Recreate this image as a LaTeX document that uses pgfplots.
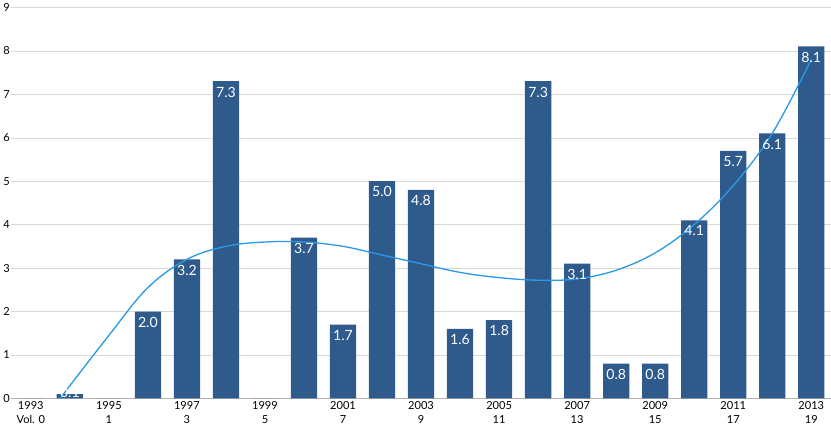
\documentclass[border=0pt]{standalone}
\usepackage{pgfplots}
\pgfplotsset{compat=1.18}
\usepackage{fontspec}
\setmainfont{Lato}
\definecolor{barc}{HTML}{2E5A8C}
\definecolor{linec}{HTML}{2A9AE8}
\begin{document}
\begin{tikzpicture}[x=1bp,y=1bp]
\begin{axis}[
  scale only axis, width=811bp, height=387bp,
  xmin=-0.5, xmax=20.5, ymin=0, ymax=9,
  ytick={0,...,9}, yticklabel style={font=\fontsize{11}{11}\selectfont, xshift=2bp},
  /pgf/number format/assume math mode=true,
  ymajorgrids, grid style={gray!30},
  axis line style={draw=none}, axis x line*=bottom, x axis line style={draw=gray!60},
  tick style={draw=none},
  xtick={0,2,...,20},
  xticklabels={1993\\Vol. 0,1995\\1,1997\\3,1999\\5,2001\\7,2003\\9,2005\\11,2007\\13,2009\\15,2011\\17,2013\\19},
  xticklabel style={align=center, font=\fontsize{11}{13}\selectfont},
  clip=false,
]
\addplot[ybar, bar width=26bp, fill=barc, draw=none,
  nodes near coords, point meta=explicit symbolic,
  every node near coord/.style={font=\fontsize{14}{14}\selectfont, text=white, anchor=north, yshift=-2bp}]
 table[meta=l] {
x y l
0 0 {}
1 0.1 {}
2 0 {}
3 2.0 2.0
4 3.2 3.2
5 7.3 7.3
6 0 {}
7 3.7 3.7
8 1.7 1.7
9 5.0 5.0
10 4.8 4.8
11 1.6 1.6
12 1.8 1.8
13 7.3 7.3
14 3.1 3.1
15 0.8 0.8
16 0.8 0.8
17 4.1 4.1
18 5.7 5.7
19 6.1 6.1
20 8.1 8.1
};
\addplot[only marks, mark=none, nodes near coords, point meta=explicit symbolic,
  every node near coord/.style={font=\fontsize{14}{14}\selectfont, text=white, anchor=south, yshift=-3bp}]
 table[meta=l] {
x y l
0 0 0.0
1 0 0.1
2 0 0.0
6 0 0.0
};
\addplot[linec, line width=1.3bp, smooth, tension=0.6] coordinates {
(0.75,0) (2,1.45) (3,2.55) (4,3.2) (5,3.5) (6,3.6) (7,3.6) (8,3.5) (9,3.3) (10,3.1) (11,2.9) (12,2.78) (13,2.72) (14,2.75) (15,2.95) (16,3.35) (17,4.0) (18,4.9) (19,6.1) (20,7.8)};
\end{axis}
\end{tikzpicture}
\end{document}
